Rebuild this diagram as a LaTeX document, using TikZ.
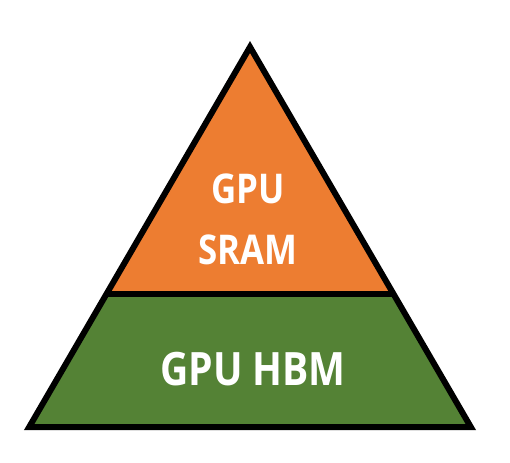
\documentclass[tikz,border=0pt]{standalone}
\usepackage{fontspec}
\newfontfamily\layerfont{Open Sans}[FakeStretch=0.85]
\definecolor{sramorange}{RGB}{237,125,49}
\definecolor{hbmgreen}{RGB}{84,130,53}

\begin{document}
\begin{tikzpicture}[x=1pt, y=-1pt]
	\tikzstyle{layer} = [text=white, font=\layerfont\bfseries, align=center]
	\useasboundingbox (0,0) rectangle (510,462);

	% Define corners
	\coordinate (apex) at (250,47);
	\coordinate (bl) at (29.2,427);
	\coordinate (br) at (470.8,427);
	\coordinate (dl) at (106.8,293.5);
	\coordinate (dr) at (393.2,293.5);

	% Fill the two layers
	\fill[sramorange] (apex) -- (dr) -- (dl) -- cycle;
	\fill[hbmgreen] (dl) -- (dr) -- (br) -- (bl) -- cycle;

	% Outline and divider
	\draw[line width=6pt, line join=miter] (apex) -- (br) -- (bl) -- cycle;
	\draw[line width=6pt] (dl) -- (dr);

	% Labels
	\node[layer, font=\layerfont\bfseries\fontsize{41}{61}\selectfont] (sram) at (248,219) {GPU\\SRAM};
	\node[layer, font=\layerfont\bfseries\fontsize{46}{54}\selectfont] (hbm) at (253,369) {GPU HBM};
\end{tikzpicture}
\end{document}
